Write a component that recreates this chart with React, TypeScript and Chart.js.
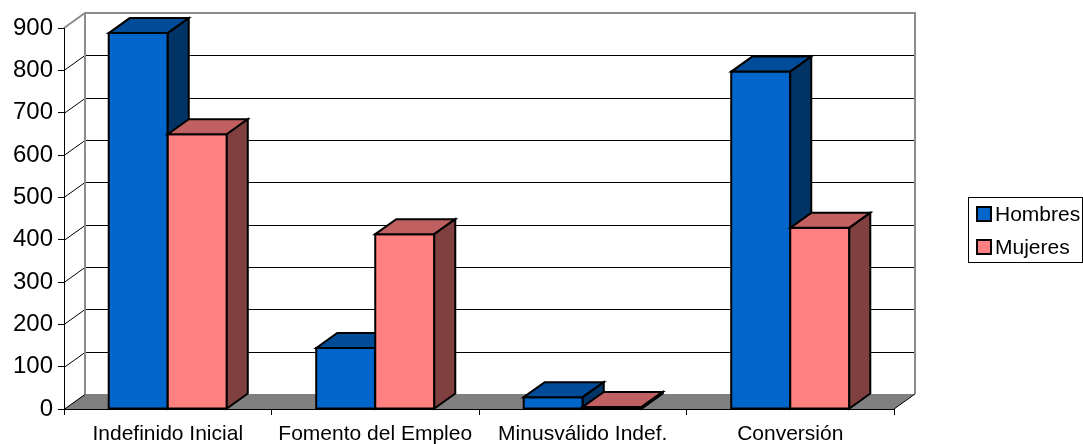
import React, { useEffect, useRef } from "react";
import { Chart, registerables } from "chart.js";

Chart.register(...registerables);

const categories = ["Indefinido Inicial", "Fomento del Empleo", "Minusválido Indef.", "Conversión"];
const seriesNames = ["Hombres", "Mujeres"];
const hombres = [888, 144, 28, 797];
const mujeres = [649, 413, 5, 428];
const yTicks = [0, 100, 200, 300, 400, 500, 600, 700, 800, 900];

const FONT = "'Liberation Sans', Arial, sans-serif";
const DX = 21;
const DY = -15;

const faces = [
  { front: "#0066CC", top: "#004C99", side: "#003366" },
  { front: "#FF8080", top: "#C06060", side: "#804040" },
];

const bar3d = {
  id: "bar3d",
  beforeDatasetsDraw(chart: any) {
    const { ctx, chartArea: a, scales } = chart;
    const y = scales.y;
    const y0 = y.getPixelForValue(0);
    const yTop = y.getPixelForValue(yTicks[yTicks.length - 1]);
    ctx.save();
    // floor
    ctx.fillStyle = "#808080";
    ctx.beginPath();
    ctx.moveTo(a.left, y0);
    ctx.lineTo(a.left + DX, y0 + DY);
    ctx.lineTo(a.right + DX, y0 + DY);
    ctx.lineTo(a.right, y0);
    ctx.closePath();
    ctx.fill();
    // back wall gridlines & left wall diagonals
    ctx.strokeStyle = "#000";
    ctx.lineWidth = 1;
    yTicks.forEach((v) => {
      const py = Math.round(y.getPixelForValue(v)) + 0.5;
      if (v > 0 && v < yTicks[yTicks.length - 1]) {
        ctx.beginPath();
        ctx.moveTo(a.left + DX, py + DY);
        ctx.lineTo(a.right + DX, py + DY);
        ctx.stroke();
      }
      if (v < yTicks[yTicks.length - 1]) {
        ctx.beginPath();
        ctx.moveTo(a.left, py);
        ctx.lineTo(a.left + DX, py + DY);
        ctx.stroke();
      }
    });
    // wall outlines (gray)
    ctx.strokeStyle = "#8c8c8c";
    ctx.lineWidth = 2;
    ctx.beginPath();
    ctx.moveTo(a.left, yTop);
    ctx.lineTo(a.left + DX, yTop + DY);
    ctx.lineTo(a.right + DX, yTop + DY);
    ctx.lineTo(a.right + DX, y0 + DY);
    ctx.stroke();
    ctx.beginPath();
    ctx.moveTo(a.left + DX, yTop + DY);
    ctx.lineTo(a.left + DX, y0 + DY);
    ctx.stroke();
    // front axis lines
    ctx.strokeStyle = "#000";
    ctx.lineWidth = 1;
    ctx.beginPath();
    ctx.moveTo(a.left + 0.5, yTop);
    ctx.lineTo(a.left + 0.5, y0);
    ctx.stroke();
    ctx.beginPath();
    ctx.moveTo(a.left, Math.round(y0) + 0.5);
    ctx.lineTo(a.right, Math.round(y0) + 0.5);
    ctx.stroke();
    ctx.beginPath();
    ctx.moveTo(a.right, y0);
    ctx.lineTo(a.right + DX, y0 + DY);
    ctx.stroke();

    // bars
    ctx.lineWidth = 2;
    ctx.lineJoin = "miter";
    ctx.strokeStyle = "#000";
    const metas = chart.data.datasets.map((_: any, i: number) => chart.getDatasetMeta(i));
    for (let c = 0; c < categories.length; c++) {
      metas.forEach((meta: any, di: number) => {
        const el = meta.data[c];
        if (!el) return;
        const { x, y: top, base, width } = el.getProps(["x", "y", "base", "width"], true);
        const l = x - width / 2;
        const r = x + width / 2;
        const f = faces[di];
        // front
        ctx.fillStyle = f.front;
        ctx.beginPath();
        ctx.rect(l, top, r - l, base - top);
        ctx.fill();
        ctx.stroke();
        // top
        ctx.fillStyle = f.top;
        ctx.beginPath();
        ctx.moveTo(l, top);
        ctx.lineTo(l + DX, top + DY);
        ctx.lineTo(r + DX, top + DY);
        ctx.lineTo(r, top);
        ctx.closePath();
        ctx.fill();
        ctx.stroke();
        // side
        ctx.fillStyle = f.side;
        ctx.beginPath();
        ctx.moveTo(r, top);
        ctx.lineTo(r + DX, top + DY);
        ctx.lineTo(r + DX, base + DY);
        ctx.lineTo(r, base);
        ctx.closePath();
        ctx.fill();
        ctx.stroke();
      });
    }
    ctx.restore();
    return false;
  },
  afterDraw(chart: any) {
    const { ctx } = chart;
    ctx.save();
    ctx.strokeStyle = "#000";
    ctx.lineWidth = 1;
    ctx.strokeRect(968.5, 197.5, 114, 65);
    ctx.font = `21px ${FONT}`;
    ctx.textBaseline = "alphabetic";
    ctx.textAlign = "left";
    seriesNames.forEach((name, i) => {
      const sy = 207 + i * 33;
      ctx.fillStyle = faces[i].front;
      ctx.fillRect(977, sy, 14, 14);
      ctx.lineWidth = 2;
      ctx.strokeRect(977, sy, 14, 14);
      ctx.fillStyle = "#000";
      ctx.fillText(name, 995, sy + 14);
    });
    ctx.restore();
  },
};

export default function App() {
  const ref = useRef<HTMLCanvasElement>(null);
  useEffect(() => {
    if (!ref.current) return;
    const chart = new Chart(ref.current, {
      type: "bar",
      data: {
        labels: categories,
        datasets: [
          { label: seriesNames[0], data: hombres, backgroundColor: faces[0].front },
          { label: seriesNames[1], data: mujeres, backgroundColor: faces[1].front },
        ],
      },
      options: {
        responsive: false,
        animation: false,
        devicePixelRatio: 1,
        layout: { padding: { top: 28, right: 189, left: 0, bottom: 0 } },
        datasets: { bar: { categoryPercentage: 0.569, barPercentage: 1 } },
        plugins: { legend: { display: false }, tooltip: { enabled: false } },
        scales: {
          x: {
            grid: { drawOnChartArea: false, drawTicks: true, tickLength: 6, color: "#000", offset: true },
            border: { display: false },
            ticks: { font: { family: FONT, size: 21 }, color: "#000", padding: 7, maxRotation: 0, autoSkip: false },
            afterFit: (s: any) => { s.height = 35; },
          },
          y: {
            min: 0,
            max: 900,
            afterBuildTicks: (s: any) => { s.ticks = yTicks.map((v) => ({ value: v })); },
            grid: { drawOnChartArea: false, drawTicks: true, tickLength: 6, color: "#000" },
            border: { display: false },
            ticks: { font: { family: FONT, size: 24 }, color: "#000", padding: 5 },
            afterFit: (s: any) => { s.width = 64; },
          },
        },
      },
      plugins: [bar3d],
    } as any);
    return () => chart.destroy();
  }, []);
  return (
    <div style={{ position: "fixed", left: 0, top: 0, width: 1083, height: 444, background: "#fff" }}>
      <canvas ref={ref} width={1083} height={444} />
    </div>
  );
}
